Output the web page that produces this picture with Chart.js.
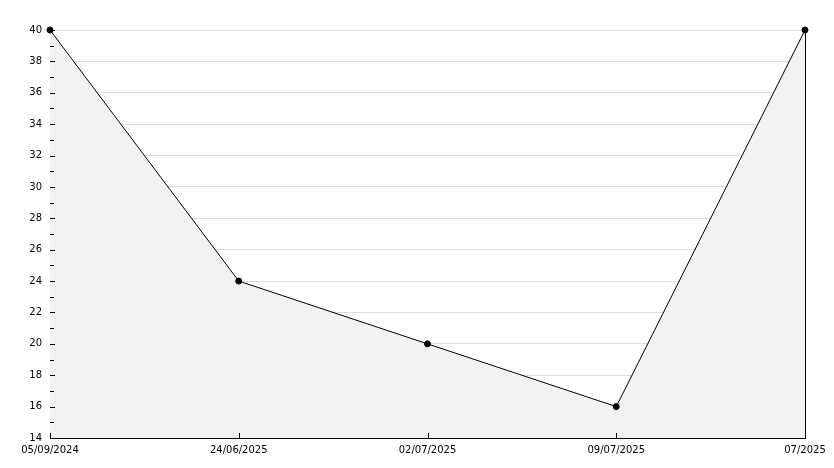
<!DOCTYPE html>
<html>
<head>
<meta charset="utf-8">
<script src="https://cdn.jsdelivr.net/npm/chart.js@4"></script>
<style>
  html, body { margin: 0; padding: 0; background: #fff; }
  #wrap { width: 834px; height: 468px; }
</style>
</head>
<body>
<div id="wrap"><canvas id="chart" width="834" height="468"></canvas></div>
<script>
// data
const categories = ['05/09/2024', '24/06/2025', '02/07/2025', '09/07/2025', '07/2025'];
const values = [40, 24, 20, 16, 40];
const yMin = 14;
const yMax = 40;

// small inward tick marks, drawn from the scales
const inwardTicks = {
  id: 'inwardTicks',
  afterDatasetsDraw(chart) {
    const ctx = chart.ctx;
    const x = chart.scales.x, y = chart.scales.y;
    ctx.save();
    ctx.strokeStyle = '#000';
    ctx.lineWidth = 1;
    ctx.beginPath();
    y.ticks.forEach((t, i) => {
      const py = Math.round(y.getPixelForTick(i)) + 0.5;
      const len = t.value % 2 === 0 ? 5 : 4;
      ctx.moveTo(x.left, py);
      ctx.lineTo(x.left + len, py);
    });
    x.ticks.forEach((t, i) => {
      const px = Math.round(x.getPixelForTick(i)) + 0.5;
      ctx.moveTo(px, y.bottom);
      ctx.lineTo(px, y.bottom - 5);
    });
    ctx.stroke();
    ctx.restore();
  }
};

new Chart(document.getElementById('chart'), {
  type: 'line',
  data: {
    labels: categories,
    datasets: [{
      data: values,
      borderColor: '#000',
      borderWidth: 1,
      backgroundColor: '#f2f2f2',
      fill: 'start',
      tension: 0,
      clip: false,
      pointRadius: 3,
      pointBackgroundColor: '#000',
      pointBorderColor: '#000',
      pointBorderWidth: 1
    }]
  },
  options: {
    responsive: false,
    animation: false,
    layout: { padding: { top: 30, right: 29, left: 0, bottom: 0 } },
    plugins: { legend: { display: false }, tooltip: { enabled: false } },
    scales: {
      x: {
        offset: false,
        afterFit(s) { s.height = 30; },
        border: { display: true, color: '#000', width: 1 },
        grid: {
          drawTicks: false,
          color: ctx => ctx.index === categories.length - 1 ? '#000' : 'rgba(0,0,0,0)'
        },
        ticks: {
          color: '#000',
          font: { family: 'DejaVu Sans', size: 10 },
          padding: 6,
          maxRotation: 0,
          autoSkip: false
        }
      },
      y: {
        min: yMin,
        max: yMax,
        afterFit(s) { s.width = 50; },
        border: { display: true, color: '#000', width: 1 },
        grid: {
          drawTicks: false,
          color: ctx => ctx.tick && ctx.tick.value % 2 === 0 ? '#dcdcdc' : 'rgba(0,0,0,0)'
        },
        ticks: {
          stepSize: 1,
          color: '#000',
          font: { family: 'DejaVu Sans', size: 10 },
          padding: 8,
          callback: v => v % 2 === 0 ? v : ''
        }
      }
    }
  },
  plugins: [inwardTicks]
});
</script>
</body>
</html>
